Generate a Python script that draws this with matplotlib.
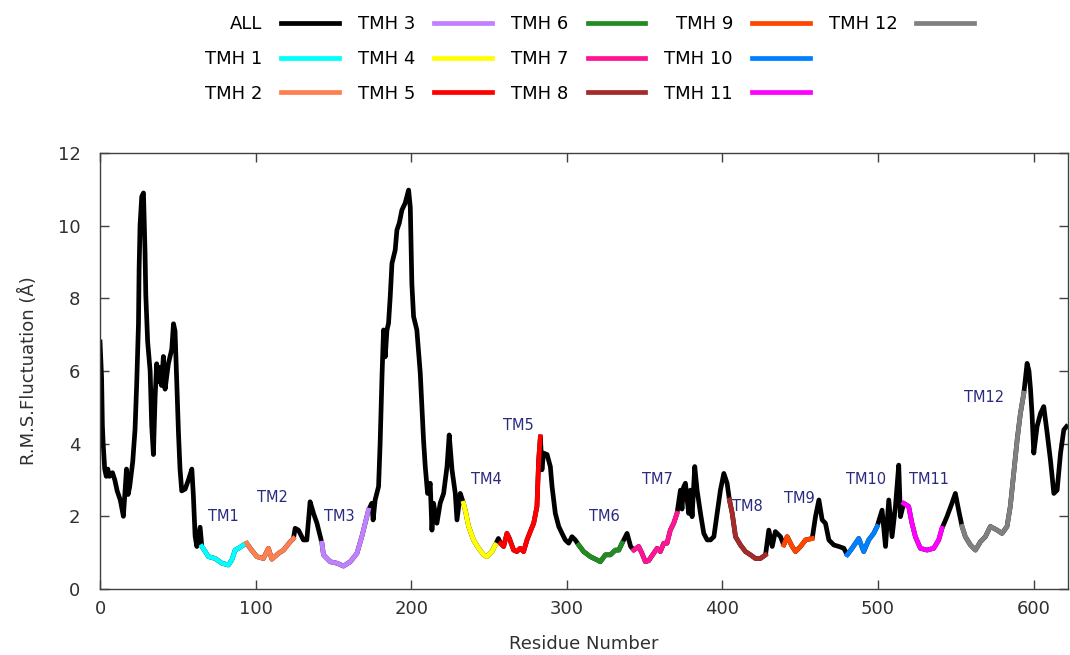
import matplotlib
matplotlib.use("Agg")
import matplotlib.pyplot as plt
from matplotlib.lines import Line2D

# residue number / RMSF (Angstrom)
residue = [
    0, 1, 1.5, 2, 3, 4, 5, 6, 8, 9.5, 11, 13, 15, 17, 18, 19, 21, 22.5, 23.6, 24.2,
    24.7, 25.1, 25.7, 26.8, 27.9, 28.9, 29.4, 30.6, 32.2, 33.2, 34.3, 35.4, 36.4, 37.5, 38.6, 39.5,
    40.7, 41.8, 43.9, 46.1, 47.2, 48.2, 49.3, 50.4, 51.4, 52.5, 54.7, 56.8, 59, 60, 61.1, 62.2,
    64.3, 65.4, 66.5, 69.7, 74, 78.3, 82.5, 84.7, 86.8, 89, 92.2, 94.3, 96.5, 100.8, 105, 108.2,
    110.4, 114.7, 117.9, 122.2, 124.3, 125.4, 127.5, 130.7, 132.9, 135, 137.2, 139.4, 142.6, 143.6,
    147.9, 152.2, 156.5, 160.8, 165.1, 168.3, 170.4, 172.5, 174.7, 175.5, 176.8, 179, 180, 181.2,
    182.2, 183.3, 184.4, 185.4, 186.5, 187.6, 189.7, 190.8, 192.3, 194, 196.1, 198.3, 199.4, 200.4,
    201.5, 203.6, 205.8, 207.9, 209, 210.5, 212.2, 213.3, 214.3, 216.5, 218.6, 220.8, 223, 224.4,
    226.2, 228.3, 229.4, 231.5, 233.6, 234.7, 236.9, 240, 243.3, 246.5, 248.6, 251.9, 254, 256,
    257.5, 259.4, 261.5, 263, 265.8, 267.9, 270, 272.2, 274.4, 276.5, 278.7, 280.8, 281.9, 283,
    284, 285, 287.3, 289.4, 290.5, 292.6, 294.8, 296.9, 299, 301.2, 303.3, 305.4, 307.6, 310.8,
    315.1, 319.4, 321.5, 324.8, 328, 331.2, 333.4, 335.5, 338.7, 341, 343, 346.2, 348.3, 350.5,
    352.6, 355.8, 358, 360.1, 362.3, 364.4, 366.5, 368.7, 370.8, 373, 374, 375, 376.2, 378.3,
    379.4, 380.5, 382.2, 383.7, 385.9, 388, 390.2, 392.3, 394.5, 396.6, 398.7, 400.9, 403, 404.5,
    406.3, 408.4, 411.6, 414.8, 418, 421.2, 424.4, 427.7, 429.8, 432, 434, 437.3, 439.4, 441.6,
    444.8, 447, 450.2, 453.4, 457.7, 459.8, 462, 464.1, 466.2, 468.4, 471.6, 474.8, 478, 480.2,
    483.3, 487.6, 490.8, 494, 497.2, 499.4, 502.6, 504.8, 506.9, 509, 511.2, 513.3, 514.4, 516.5,
    519.7, 521.8, 524, 527.2, 531.5, 535.8, 539, 541.1, 544.3, 547.5, 549.7, 551.8, 554, 556.1,
    559.4, 562.6, 565.8, 569, 572.2, 576.5, 579.7, 582.9, 585, 587.2, 589.4, 591.5, 593.7, 595.8,
    597, 598, 599, 600.1, 602.2, 604.4, 606.5, 608.7, 610.8, 613, 615.1, 617.3, 619.4, 621.1,
]
rmsf = [
    6.8, 5.8, 4.5, 4.0, 3.3, 3.1, 3.3, 3.1, 3.2, 3.0, 2.7, 2.45, 2.0, 3.3, 2.6, 2.8, 3.5, 4.4, 5.7, 6.6,
    7.3, 8.8, 10.0, 10.8, 10.9, 9.3, 8.1, 6.8, 6.0, 4.5, 3.7, 5.3, 6.2, 5.7, 6.1, 5.6,
    6.4, 5.5, 6.2, 6.6, 7.3, 7.1, 5.7, 4.3, 3.3, 2.7, 2.75, 3.0, 3.3, 2.55, 1.45, 1.17,
    1.7, 1.17, 1.1, 0.89, 0.84, 0.71, 0.66, 0.8, 1.07, 1.12, 1.21, 1.26, 1.12, 0.89, 0.84, 1.12,
    0.82, 0.98, 1.07, 1.30, 1.39, 1.67, 1.62, 1.35, 1.35, 2.40, 2.08, 1.81, 1.26, 0.94,
    0.75, 0.71, 0.63, 0.75, 0.98, 1.45, 1.81, 2.17, 2.36, 1.9, 2.45, 2.82, 4.0, 5.84,
    7.13, 6.39, 7.13, 7.31, 8.05, 8.96, 9.33, 9.88, 10.07, 10.43, 10.62, 10.98, 10.5, 8.4,
    7.5, 7.13, 5.94, 4.10, 3.37, 2.63, 2.91, 1.62, 2.36, 1.81, 2.36, 2.63, 3.37, 4.24,
    3.28, 2.63, 1.90, 2.63, 2.36, 2.17, 1.72, 1.35, 1.12, 0.94, 0.89, 1.03, 1.21, 1.39,
    1.25, 1.17, 1.53, 1.4, 1.07, 1.03, 1.12, 1.03, 1.35, 1.58, 1.81, 2.27, 3.55, 4.19,
    3.28, 3.74, 3.7, 3.37, 2.82, 2.08, 1.72, 1.53, 1.35, 1.26, 1.44, 1.35, 1.21, 1.03,
    0.89, 0.80, 0.75, 0.94, 0.94, 1.07, 1.07, 1.26, 1.53, 1.17, 1.07, 1.17, 0.98, 0.75,
    0.78, 0.98, 1.12, 1.03, 1.26, 1.26, 1.62, 1.81, 2.08, 2.72, 2.2, 2.8, 2.91, 2.08,
    2.72, 1.99, 3.37, 2.72, 2.08, 1.53, 1.35, 1.35, 1.44, 2.08, 2.72, 3.18, 2.91, 2.45,
    2.08, 1.44, 1.21, 1.03, 0.94, 0.84, 0.84, 0.94, 1.62, 1.17, 1.58, 1.44, 1.21, 1.44,
    1.17, 1.03, 1.17, 1.35, 1.39, 1.99, 2.45, 1.9, 1.81, 1.35, 1.21, 1.17, 1.12, 0.94,
    1.12, 1.39, 1.03, 1.35, 1.53, 1.72, 2.17, 1.17, 2.45, 1.44, 2.27, 3.41, 1.99, 2.36,
    2.27, 1.81, 1.44, 1.12, 1.07, 1.12, 1.35, 1.67, 1.99, 2.36, 2.63, 2.17, 1.72, 1.44,
    1.21, 1.07, 1.30, 1.44, 1.72, 1.62, 1.53, 1.72, 2.27, 3.18, 4.10, 4.83, 5.39, 6.21,
    6.0, 5.5, 4.8, 3.74, 4.47, 4.83, 5.02, 4.29, 3.55, 2.63, 2.72, 3.74, 4.38, 4.47,
]

# transmembrane helix ranges (residue numbers) and colours
tm_start = [65.4, 94.3, 142.6, 233.6, 257.5, 307.6, 343, 404.5, 439.4, 480.2, 516.5, 554]
tm_end = [94.3, 124.3, 172.5, 254, 283, 335.5, 370.8, 427.7, 457.7, 499.4, 541.1, 593.7]
tm_colors = ['#00ffff', '#ff7f50', '#c080ff', '#ffff00', '#ff0000', '#228b22',
             '#ff1493', '#a52a2a', '#ff4500', '#0080ff', '#ff00ff', '#808080']

# label text positions (residue, rmsf)
lab_x = [79, 111, 154, 248, 269, 324, 358, 416, 449.5, 492.5, 533, 568]
lab_y = [2.0, 2.53, 2.0, 3.0, 4.49, 2.0, 3.0, 2.26, 2.5, 3.0, 3.0, 5.26]

plt.rcParams['font.family'] = 'DejaVu Sans'
fig = plt.figure(figsize=(10.7, 6.55), dpi=100)
ax = fig.add_axes([0.0935, 0.1008, 0.9045, 0.6656])

ax.plot(residue, rmsf, color='black', lw=3.4, label='ALL')
for i in range(12):
    xs = [x for x in residue if tm_start[i] <= x <= tm_end[i]]
    ys = [y for x, y in zip(residue, rmsf) if tm_start[i] <= x <= tm_end[i]]
    ax.plot(xs, ys, color=tm_colors[i], lw=3.4, label=f'TMH {i + 1}')
    ax.text(lab_x[i], lab_y[i], f'TM{i + 1}', color='#2a2a80', fontsize=10.5,
            ha='center', va='center')

ax.set_xlim(0, 622)
ax.set_ylim(0, 12)
ax.set_xticks(range(0, 601, 100))
ax.set_yticks(range(0, 13, 2))
ax.tick_params(direction='in', length=6.5, width=1, top=True, right=True,
               labelsize=13, colors='#404040', labelcolor='#303030')
ax.tick_params(axis='y', pad=14)
ax.tick_params(axis='x', pad=8)
for s in ax.spines.values():
    s.set_color('#404040')
    s.set_linewidth(1)
ax.set_xlabel('Residue Number', fontsize=13, color='#303030', labelpad=12.5)
ax.set_ylabel('R.M.S.Fluctuation (Å)', fontsize=13, color='#303030', labelpad=14)

# pad the last legend column with two blank entries, as in the reference
handles, labels = ax.get_legend_handles_labels()
blank = Line2D([], [], color='none')
handles += [blank, blank]
labels += ['', '']
fig.legend(handles, labels, loc='center', bbox_to_anchor=(0.551, 0.91), ncol=5,
           frameon=False, markerfirst=False, fontsize=13, handlelength=3.2,
           handletextpad=1.05, columnspacing=1.05, labelspacing=0.93, borderpad=0)

fig.savefig('out.png', dpi=100)
